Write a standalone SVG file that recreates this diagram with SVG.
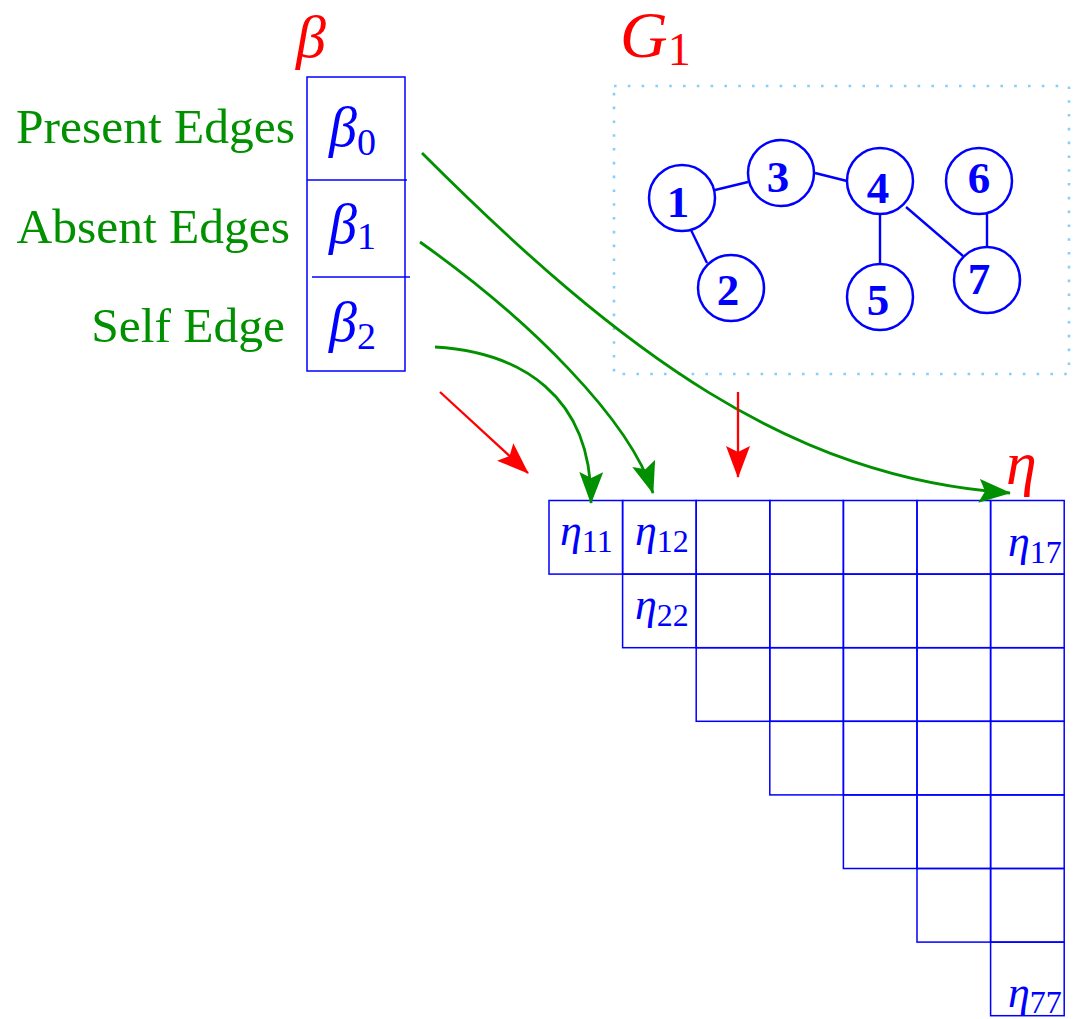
<svg xmlns="http://www.w3.org/2000/svg" width="1090" height="1019" viewBox="0 0 1090 1019">
<style>
.lbl{font-family:"Liberation Serif","Times New Roman",serif;fill:#009000;font-size:49.5px}
.mi{font-family:"Liberation Serif","Times New Roman",serif;font-style:italic}
.up{font-family:"Liberation Serif","Times New Roman",serif}
.blue{fill:#0000ff}
.red{fill:#ff0000}
.cell{fill:none;stroke:#0000ff;stroke-width:1.5}
.node circle{fill:#fff;stroke:#0000ff;stroke-width:2.5}
.node text{font-family:"Liberation Serif","Times New Roman",serif;font-weight:bold;font-size:45px;fill:#0000ff;text-anchor:middle}
.gedge{stroke:#0000ff;stroke-width:2.4}
.garrow{fill:none;stroke:#009000;stroke-width:2.8}
.rarrow{fill:none;stroke:#ff0000;stroke-width:2.3}
</style>
<defs>
<marker id="ag" markerUnits="userSpaceOnUse" viewBox="0 0 32 24" markerWidth="32" markerHeight="24" refX="31" refY="12" orient="auto">
<path d="M0,0 L32,12 L0,24 L6,12 z" fill="#009000"/>
</marker>
<marker id="ar" markerUnits="userSpaceOnUse" viewBox="0 0 32 24" markerWidth="32" markerHeight="24" refX="31" refY="12" orient="auto">
<path d="M0,0 L32,12 L0,24 L6,12 z" fill="#ff0000"/>
</marker>
</defs>
<rect width="1090" height="1019" fill="#fff"/>

<g id="labels">
<text class="lbl" x="295" y="143" text-anchor="end">Present Edges</text>
<text class="lbl" x="290" y="243" text-anchor="end">Absent Edges</text>
<text class="lbl" x="285" y="342" text-anchor="end">Self Edge</text>
<text class="mi red" x="296" y="57" font-size="60">β</text>
<text class="red" x="620" y="57"><tspan class="mi" font-size="66">G</tspan><tspan class="up" font-size="46" dy="8">1</tspan></text>
<text class="mi red" x="1006" y="484" font-size="62">η</text>
</g>

<g id="beta">
<rect x="307" y="77" width="98" height="294" fill="none" stroke="#0000ff" stroke-width="1.5"/>
<line x1="307" y1="180" x2="407" y2="180" stroke="#0000ff" stroke-width="1.5"/>
<line x1="312" y1="277" x2="410" y2="277" stroke="#0000ff" stroke-width="1.5"/>
<text class="blue" x="329" y="146"><tspan class="mi" font-size="56">β</tspan><tspan class="up" font-size="38" dy="9">0</tspan></text>
<text class="blue" x="329" y="243"><tspan class="mi" font-size="56">β</tspan><tspan class="up" font-size="38" dy="6">1</tspan></text>
<text class="blue" x="329" y="341"><tspan class="mi" font-size="56">β</tspan><tspan class="up" font-size="38" dy="8">2</tspan></text>
</g>

<g id="graph">
<rect x="614" y="86" width="455" height="288" fill="none" stroke="#87cefa" stroke-width="2.6" stroke-dasharray="2.6 11.2" stroke-linecap="butt"/>
<g id="graph-edges">
<line class="gedge" x1="715" y1="190" x2="748" y2="182"/>
<line class="gedge" x1="815" y1="173" x2="847" y2="181"/>
<line class="gedge" x1="691" y1="230" x2="707" y2="263"/>
<line class="gedge" x1="880" y1="214" x2="880" y2="264"/>
<line class="gedge" x1="906" y1="207" x2="963" y2="256"/>
<line class="gedge" x1="987" y1="213" x2="987" y2="248"/>
</g>
<g id="node1" class="node"><circle cx="682" cy="198" r="33"/><text x="678" y="217">1</text></g>
<g id="node2" class="node"><circle cx="731" cy="288" r="33"/><text x="728" y="305">2</text></g>
<g id="node3" class="node"><circle cx="781" cy="173" r="33"/><text x="778" y="192">3</text></g>
<g id="node4" class="node"><circle cx="880" cy="181" r="33"/><text x="878" y="203">4</text></g>
<g id="node5" class="node"><circle cx="880" cy="297" r="33"/><text x="878" y="315">5</text></g>
<g id="node6" class="node"><circle cx="979" cy="181" r="33"/><text x="979" y="193">6</text></g>
<g id="node7" class="node"><circle cx="987" cy="280" r="33"/><text x="979" y="294">7</text></g>
</g>

<g id="eta">
<g id="row0">
<rect class="cell" x="549" y="500.5" width="73.6" height="73.6"/>
<rect class="cell" x="622.6" y="500.5" width="73.6" height="73.6"/>
<rect class="cell" x="696.2" y="500.5" width="73.6" height="73.6"/>
<rect class="cell" x="769.8" y="500.5" width="73.6" height="73.6"/>
<rect class="cell" x="843.4" y="500.5" width="73.6" height="73.6"/>
<rect class="cell" x="917" y="500.5" width="73.6" height="73.6"/>
<rect class="cell" x="990.6" y="500.5" width="73.6" height="73.6"/>
</g>
<g id="row1">
<rect class="cell" x="622.6" y="574.1" width="73.6" height="73.6"/>
<rect class="cell" x="696.2" y="574.1" width="73.6" height="73.6"/>
<rect class="cell" x="769.8" y="574.1" width="73.6" height="73.6"/>
<rect class="cell" x="843.4" y="574.1" width="73.6" height="73.6"/>
<rect class="cell" x="917" y="574.1" width="73.6" height="73.6"/>
<rect class="cell" x="990.6" y="574.1" width="73.6" height="73.6"/>
</g>
<g id="row2">
<rect class="cell" x="696.2" y="647.7" width="73.6" height="73.6"/>
<rect class="cell" x="769.8" y="647.7" width="73.6" height="73.6"/>
<rect class="cell" x="843.4" y="647.7" width="73.6" height="73.6"/>
<rect class="cell" x="917" y="647.7" width="73.6" height="73.6"/>
<rect class="cell" x="990.6" y="647.7" width="73.6" height="73.6"/>
</g>
<g id="row3">
<rect class="cell" x="769.8" y="721.3" width="73.6" height="73.6"/>
<rect class="cell" x="843.4" y="721.3" width="73.6" height="73.6"/>
<rect class="cell" x="917" y="721.3" width="73.6" height="73.6"/>
<rect class="cell" x="990.6" y="721.3" width="73.6" height="73.6"/>
</g>
<g id="row4">
<rect class="cell" x="843.4" y="794.9" width="73.6" height="73.6"/>
<rect class="cell" x="917" y="794.9" width="73.6" height="73.6"/>
<rect class="cell" x="990.6" y="794.9" width="73.6" height="73.6"/>
</g>
<g id="row5">
<rect class="cell" x="917" y="868.5" width="73.6" height="73.6"/>
<rect class="cell" x="990.6" y="868.5" width="73.6" height="73.6"/>
</g>
<g id="row6">
<rect class="cell" x="990.6" y="942.1" width="73.6" height="73.6"/>
</g>
<text class="blue" x="560" y="545"><tspan class="mi" font-size="44">η</tspan><tspan class="up" font-size="32" dy="7">11</tspan></text>
<text class="blue" x="635" y="545"><tspan class="mi" font-size="44">η</tspan><tspan class="up" font-size="32" dy="7">12</tspan></text>
<text class="blue" x="1008" y="556"><tspan class="mi" font-size="44">η</tspan><tspan class="up" font-size="32" dy="7">17</tspan></text>
<text class="blue" x="635" y="619"><tspan class="mi" font-size="44">η</tspan><tspan class="up" font-size="32" dy="7">22</tspan></text>
<text class="blue" x="1008" y="1007"><tspan class="mi" font-size="44">η</tspan><tspan class="up" font-size="32" dy="6">77</tspan></text>
</g>

<g id="connectors">
<path class="garrow" d="M422,153 C622,353 790,478 1010,493" marker-end="url(#ag)"/>
<path class="garrow" d="M420,242 C530,320 630,420 653,493" marker-end="url(#ag)"/>
<path class="garrow" d="M435,347 C520,352 592,395 591,503" marker-end="url(#ag)"/>
<line class="rarrow" x1="440" y1="392" x2="528" y2="473" marker-end="url(#ar)"/>
<line class="rarrow" x1="738" y1="392" x2="738" y2="477" marker-end="url(#ar)"/>
</g>
</svg>
